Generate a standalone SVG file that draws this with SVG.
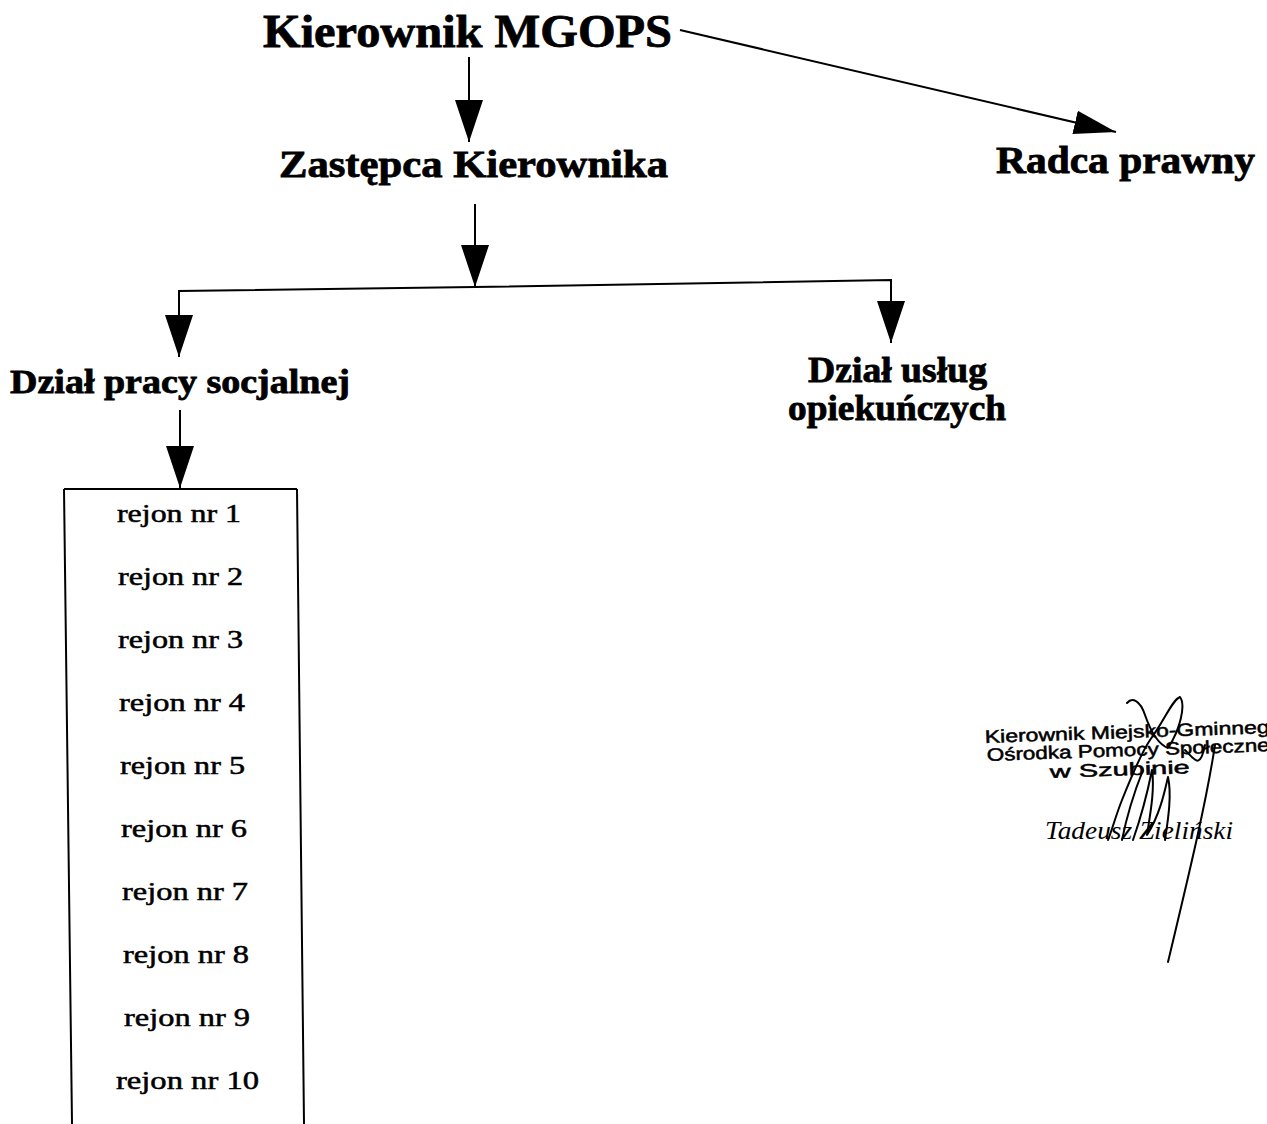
<svg xmlns="http://www.w3.org/2000/svg" width="1267" height="1124" viewBox="0 0 1267 1124">
<defs>
<marker id="ah" markerUnits="userSpaceOnUse" markerWidth="44" markerHeight="30" refX="42" refY="14" orient="auto" viewBox="0 0 44 30">
<path d="M0,0 L42,14 L0,28 Z" fill="#000"/>
</marker>
<marker id="ahs" markerUnits="userSpaceOnUse" markerWidth="44" markerHeight="30" refX="42" refY="12" orient="auto" viewBox="0 0 44 30">
<path d="M0,0 L42,12 L0,24 Z" fill="#000"/>
</marker>
</defs>
<style>
.h{font-family:"Liberation Serif","Times New Roman",serif;font-weight:bold;fill:#000;stroke:#000;stroke-width:0.8}
.r{font-family:"Liberation Serif","Times New Roman",serif;font-size:25px;fill:#000;stroke:#000;stroke-width:0.5}
.c{stroke:#000;stroke-width:2;fill:none}
.s{font-family:"Liberation Sans",Arial,sans-serif;font-size:18px;fill:#000;stroke:#000;stroke-width:0.5}
.sig{stroke:#000;stroke-width:2;fill:none;stroke-linecap:round;stroke-linejoin:round}
</style>
<rect width="1267" height="1124" fill="#fff"/>
<g id="connectors">
<path class="c" d="M469,57 V142" marker-end="url(#ah)"/>
<path class="c" d="M475,204 V287" marker-end="url(#ah)"/>
<path class="c" d="M475,287 L179,291 V357" marker-end="url(#ah)"/>
<path class="c" d="M475,287 L891,280 V343" marker-end="url(#ah)"/>
<path class="c" d="M180,410 V488" marker-end="url(#ah)"/>
<path class="c" d="M680,30 L1116,132" marker-end="url(#ahs)"/>
</g>
<g id="kierownik"><text class="h" x="263" y="47" font-size="46" textLength="409" lengthAdjust="spacingAndGlyphs">Kierownik MGOPS</text></g>
<g id="zastepca"><text class="h" x="279" y="177" font-size="37" textLength="389" lengthAdjust="spacingAndGlyphs">Zastępca Kierownika</text></g>
<g id="radca"><text class="h" x="996" y="173" font-size="38" textLength="259" lengthAdjust="spacingAndGlyphs">Radca prawny</text></g>
<g id="dzial-pracy"><text class="h" x="10" y="393" font-size="34" textLength="340" lengthAdjust="spacingAndGlyphs">Dział pracy socjalnej</text></g>
<g id="dzial-uslug">
<text class="h" x="808" y="382" font-size="36" textLength="179" lengthAdjust="spacingAndGlyphs">Dział usług</text>
<text class="h" x="788" y="420" font-size="36" textLength="218" lengthAdjust="spacingAndGlyphs">opiekuńczych</text>
</g>
<g id="rejony">
<path class="c" d="M64,489 L297,489 M64,489 L72,1124 M297,489 L304,1124" stroke-width="1.5"/>
<text class="r" x="117" y="522" textLength="124" lengthAdjust="spacingAndGlyphs">rejon nr 1</text>
<text class="r" x="118" y="585" textLength="125" lengthAdjust="spacingAndGlyphs">rejon nr 2</text>
<text class="r" x="118" y="648" textLength="125" lengthAdjust="spacingAndGlyphs">rejon nr 3</text>
<text class="r" x="119" y="711" textLength="126" lengthAdjust="spacingAndGlyphs">rejon nr 4</text>
<text class="r" x="120" y="774" textLength="125" lengthAdjust="spacingAndGlyphs">rejon nr 5</text>
<text class="r" x="121" y="837" textLength="126" lengthAdjust="spacingAndGlyphs">rejon nr 6</text>
<text class="r" x="122" y="900" textLength="126" lengthAdjust="spacingAndGlyphs">rejon nr 7</text>
<text class="r" x="123" y="963" textLength="126" lengthAdjust="spacingAndGlyphs">rejon nr 8</text>
<text class="r" x="124" y="1026" textLength="126" lengthAdjust="spacingAndGlyphs">rejon nr 9</text>
<text class="r" x="116" y="1089" textLength="143" lengthAdjust="spacingAndGlyphs">rejon nr 10</text>
</g>
<g id="podpis">
<text class="s" x="985" y="743" transform="rotate(-2 985 743)" textLength="285" lengthAdjust="spacingAndGlyphs">Kierownik Miejsko-Gminneg</text>
<text class="s" x="987" y="761" transform="rotate(-2 987 761)" textLength="283" lengthAdjust="spacingAndGlyphs">Ośrodka Pomocy Społeczne</text>
<text class="s" x="1050" y="778" transform="rotate(-2 1050 778)" textLength="140" lengthAdjust="spacingAndGlyphs">w Szubinie</text>
<text x="1045" y="839" font-family="Liberation Serif, Times New Roman, serif" font-style="italic" font-size="25" textLength="188" lengthAdjust="spacingAndGlyphs">Tadeusz Zieliński</text>
<path class="sig" d="M1215,745 C1205,810 1185,890 1168,962"/>
<path class="sig" d="M1127,703 C1132,697 1140,700 1145,715 C1152,735 1160,745 1168,748 C1180,730 1186,705 1180,697 C1172,700 1165,720 1150,740 C1140,755 1130,780 1122,800 C1116,815 1112,830 1108,840"/>
<path class="sig" d="M1122,840 C1127,815 1135,790 1143,770"/>
<path class="sig" d="M1133,840 C1140,820 1148,790 1152,770 C1155,790 1150,815 1147,835 C1160,815 1165,790 1168,777 C1172,795 1168,820 1165,840"/>
<path class="sig" d="M1185,750 C1195,760 1200,770 1205,745"/>
</g>
</svg>
